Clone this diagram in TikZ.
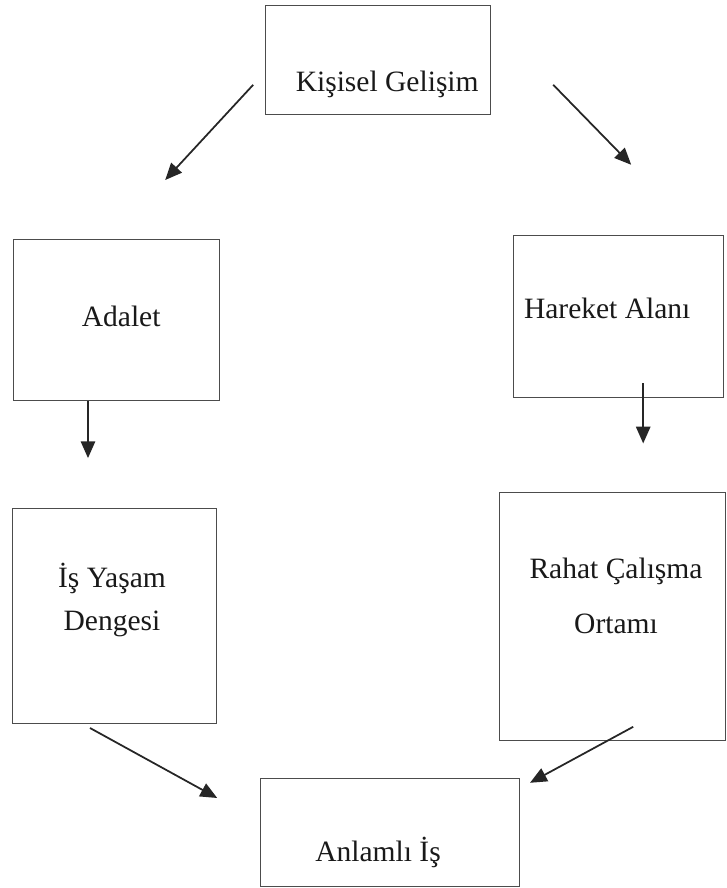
\documentclass[tikz,border=0pt]{standalone}
\usepackage{fontspec}
\setmainfont{Liberation Serif}
\usetikzlibrary{arrows.meta, positioning, calc}

\begin{document}
\begin{tikzpicture}[
  kutu/.style={draw=black!70, line width=0.6pt, inner sep=0pt},
  yazi/.style={font=\fontsize{21}{26}\selectfont, align=center, inner sep=0pt, text=black!90},
  ok/.style={-{Triangle[length=0.42cm, width=0.36cm]}, line width=1.25pt, draw=black!85}
]
\useasboundingbox (0,0) rectangle (18.15,22.2);

% kutular
\node[kutu, minimum width=5.625cm, minimum height=2.725cm] (kg) at (9.44,20.71) {};
\node[kutu, minimum width=5.15cm, minimum height=4.025cm] (ad) at (2.9,14.19) {};
\node[kutu, minimum width=5.25cm, minimum height=4.05cm] (hr) at (15.45,14.3) {};
\node[kutu, minimum width=5.1cm, minimum height=5.375cm] (iy) at (2.85,6.79) {};
\node[kutu, minimum width=5.65cm, minimum height=6.2cm] (rc) at (15.3,6.8) {};
\node[kutu, minimum width=6.475cm, minimum height=2.7cm] (ai) at (9.76,1.4) {};

% yazilar
\node[yazi] (kgy) at (9.68,20.1) {Kişisel Gelişim};
\node[yazi] (ady) at (3.03,14.3) {Adalet};
\node[yazi] (hry) at (15.18,14.5) {Hareket Alanı};
\node[yazi] (iyy) at (2.8,7.2) {İş Yaşam\\[0.18cm]Dengesi};
\node[yazi] (rcy) at (15.4,7.3) {Rahat Çalışma\\[0.48cm]Ortamı};
\node[yazi] (aiy) at (9.45,0.9) {Anlamlı İş};

% oklar
\coordinate (kgsol) at (6.33,20.08);
\coordinate (adust) at (4.13,17.7);
\coordinate (kgsag) at (13.83,20.08);
\coordinate (hrust) at (15.78,18.08);
\coordinate (iyalt) at (2.25,4.0);
\coordinate (aisol) at (5.43,2.25);
\coordinate (rcalt) at (15.83,4.03);
\coordinate (aisag) at (13.25,2.63);

\draw[ok] (kgsol) -- (adust);
\draw[ok] (kgsag) -- (hrust);
\draw[ok] ([xshift=-0.7cm]ad.south) -- ([xshift=-0.7cm, yshift=-1.42cm]ad.south);
\draw[ok] ([xshift=0.63cm, yshift=0.35cm]hr.south) -- ([xshift=0.63cm, yshift=-1.15cm]hr.south);
\draw[ok] (iyalt) -- (aisol);
\draw[ok] (rcalt) -- (aisag);
\end{tikzpicture}
\end{document}
